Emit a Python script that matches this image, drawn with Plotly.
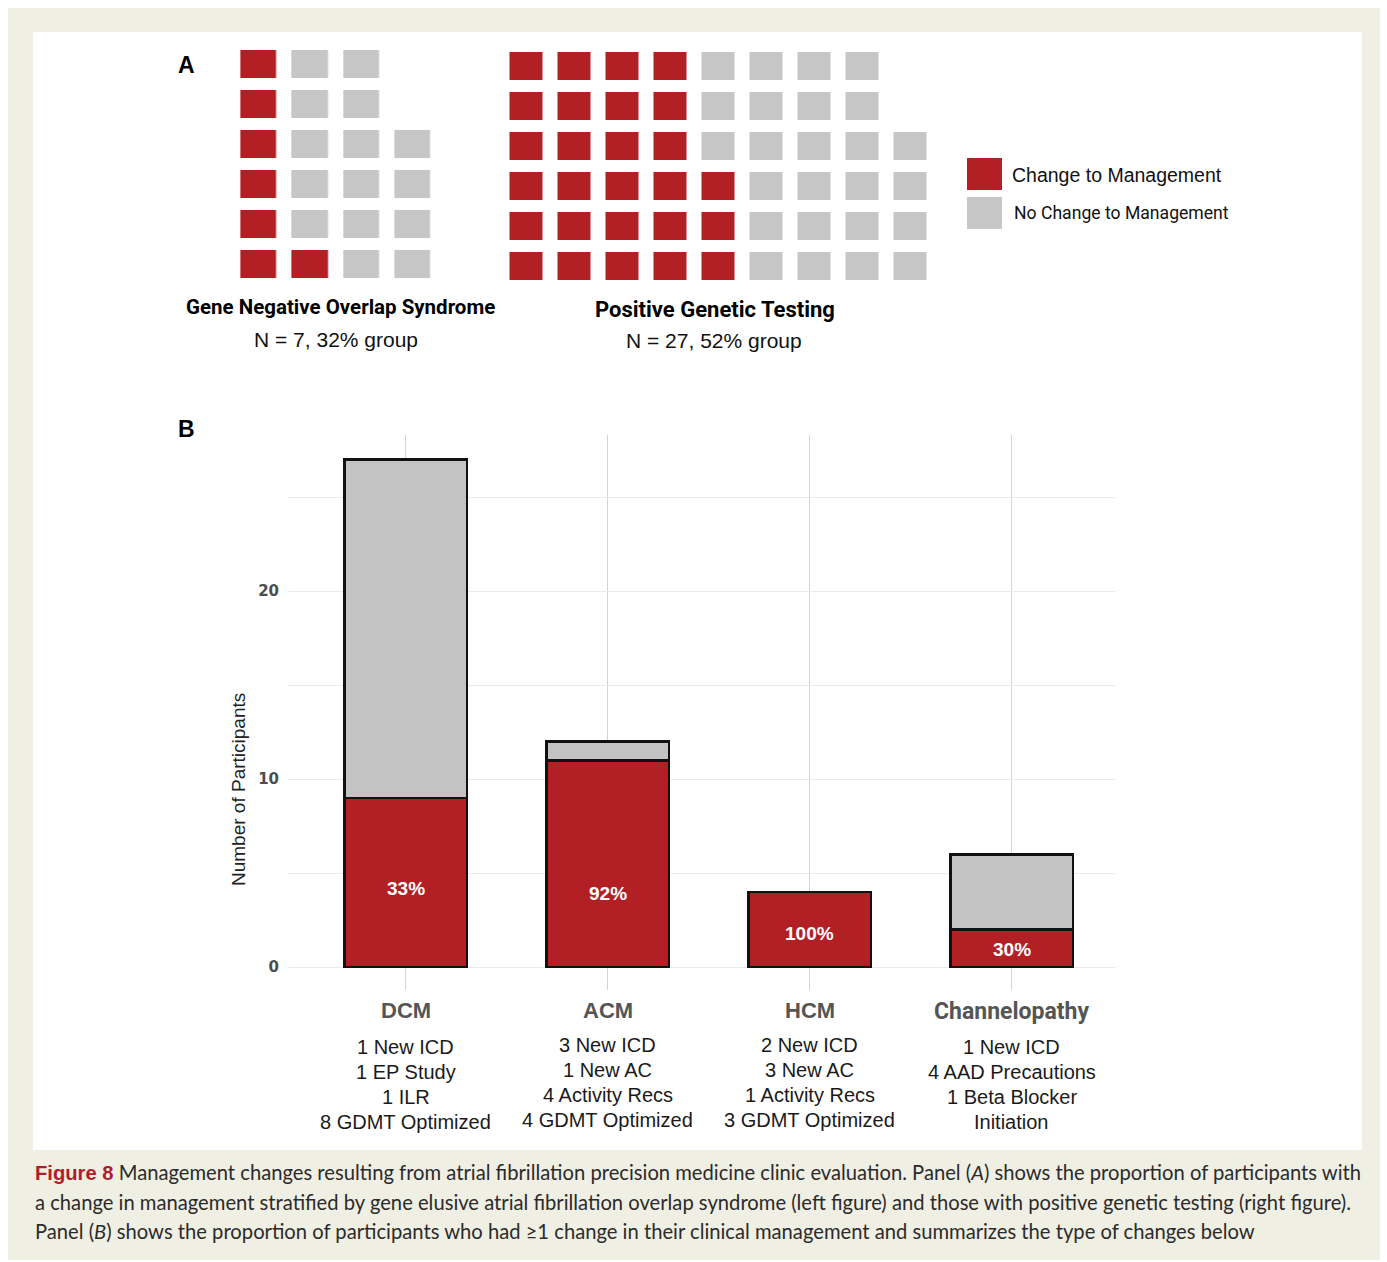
import plotly.graph_objects as go

W, H = 1387, 1262
def fx(p): return p / W
def fy(p): return 1 - p / H

# ---------------- data ----------------
waffle_rows = 6
neg_total = 22
neg_changed = 7
pos_total = 52
pos_changed = 27
neg_title = "Gene Negative Overlap Syndrome"
neg_sub = "N = 7, 32% group"
pos_title = "Positive Genetic Testing"
pos_sub = "N = 27, 52% group"
legend_labels = ["Change to Management", "No Change to Management"]

categories = ["DCM", "ACM", "HCM", "Channelopathy"]
changed = [9, 11, 4, 2]
no_change = [18, 1, 0, 4]
pct_labels = ["33%", "92%", "100%", "30%"]
change_details = [
    ["1 New ICD", "1 EP Study", "1 ILR", "8 GDMT Optimized"],
    ["3 New ICD", "1 New AC", "4 Activity Recs", "4 GDMT Optimized"],
    ["2 New ICD", "3 New AC", "1 Activity Recs", "3 GDMT Optimized"],
    ["1 New ICD", "4 AAD Precautions", "1 Beta Blocker", "Initiation"],
]
y_tick_vals = [0, 10, 20]
y_title = "Number of Participants"

caption_lines = [
    "<span style='font-family:Liberation Sans;font-weight:bold;color:#b01c2e'>Figure 8</span> Management changes resulting from atrial fibrillation precision medicine clinic evaluation. Panel (<i>A</i>) shows the proportion of participants with",
    "a change in management stratified by gene elusive atrial fibrillation overlap syndrome (left figure) and those with positive genetic testing (right figure).",
    "Panel (<i>B</i>) shows the proportion of participants who had \u22651 change in their clinical management and summarizes the type of changes below",
]

# ---------------- styles ----------------
RED = "#b21f24"
GREY = "#c3c3c3"
WGREY = "#c6c6c6"
BEIGE = "#f0efe3"
ARIAL = "Liberation Sans, Arial, sans-serif"
NARROW = "Roboto, Liberation Sans, sans-serif"
CAPTION = "Lato, Liberation Sans, sans-serif"
LABEL_Y = [4.2, 3.9, 1.8, 0.96]


def waffle(total, chg, rows):
    ncols = -(-total // rows)
    z = [[None] * ncols for _ in range(rows)]
    for i in range(total):
        c = i // rows
        r = rows - 1 - (i % rows)
        z[r][c] = 1 if i < chg else 0
    return z, ncols


fig = go.Figure()

# stacked bars (panel B)
fig.add_trace(go.Bar(x=categories, y=changed, width=0.606,
                     marker=dict(color=RED, line=dict(color="#111111", width=2.5)),
                     xaxis="x", yaxis="y", hoverinfo="skip"))
fig.add_trace(go.Bar(x=categories, y=no_change, width=0.606,
                     marker=dict(color=GREY, line=dict(color="#111111", width=2.5)),
                     xaxis="x", yaxis="y", hoverinfo="skip"))

cs = [[0, WGREY], [0.5, WGREY], [0.5, RED], [1, RED]]
zn, nc_n = waffle(neg_total, neg_changed, waffle_rows)
zp, nc_p = waffle(pos_total, pos_changed, waffle_rows)
fig.add_trace(go.Heatmap(z=zn, colorscale=cs, zmin=0, zmax=1, showscale=False,
                         xgap=15.3, ygap=12, xaxis="x2", yaxis="y2", hoverinfo="skip"))
fig.add_trace(go.Heatmap(z=zp, colorscale=cs, zmin=0, zmax=1, showscale=False,
                         xgap=15, ygap=12, xaxis="x3", yaxis="y3", hoverinfo="skip"))

hidden = dict(showgrid=False, zeroline=False, showticklabels=False, ticks="", showline=False, fixedrange=True)

fig.update_layout(
    width=W, height=H, margin=dict(l=0, r=0, t=0, b=0),
    paper_bgcolor="white", plot_bgcolor="rgba(0,0,0,0)",
    barmode="stack", showlegend=False,
    xaxis=dict(domain=[fx(288), fx(1116)], range=[-0.582, 3.517], type="category",
               showgrid=True, gridcolor="#d4d4d4", gridwidth=1.2,
               showticklabels=False, ticks="", zeroline=False, showline=False),
    yaxis=dict(domain=[fy(990), fy(435)], range=[-1.22, 28.3],
               tickvals=[0, 5, 10, 15, 20, 25],
               ticktext=[str(v) if v in y_tick_vals else "" for v in [0, 5, 10, 15, 20, 25]],
               showgrid=True, gridcolor="#ebebeb", gridwidth=1,
               zeroline=False, showline=False, ticks="", ticklabelstandoff=8,
               tickfont=dict(family="DejaVu Sans", size=15, color="#4d4d4d", weight="bold")),
    xaxis2=dict(domain=[fx(233.35), fx(438.65)], range=[-0.5, nc_n - 0.5], anchor="y2", **hidden),
    yaxis2=dict(domain=[fy(284), fy(44)], range=[waffle_rows - 0.5, -0.5], anchor="x2", **hidden),
    xaxis3=dict(domain=[fx(502.5), fx(934.5)], range=[-0.5, nc_p - 0.5], anchor="y3", **hidden),
    yaxis3=dict(domain=[fy(286), fy(46)], range=[waffle_rows - 0.5, -0.5], anchor="x3", **hidden),
)

shapes = [
    dict(type="rect", xref="paper", yref="paper", x0=fx(8), x1=fx(1380), y0=fy(1260), y1=fy(8),
         fillcolor=BEIGE, line=dict(width=0), layer="below"),
    dict(type="rect", xref="paper", yref="paper", x0=fx(33), x1=fx(1362), y0=fy(1150), y1=fy(32),
         fillcolor="white", line=dict(width=0), layer="below"),
    dict(type="rect", xref="paper", yref="paper", x0=fx(967), x1=fx(1002), y0=fy(190), y1=fy(158),
         fillcolor=RED, line=dict(width=0)),
    dict(type="rect", xref="paper", yref="paper", x0=fx(967), x1=fx(1002), y0=fy(229), y1=fy(197),
         fillcolor=WGREY, line=dict(width=0)),
]
fig.update_layout(shapes=shapes)

ann = []
def text(x, y, s, size, family=ARIAL, color="#111111", weight="normal", xanchor="center", **kw):
    ann.append(dict(xref="paper", yref="paper", x=fx(x), y=fy(y), text=s, showarrow=False,
                    xanchor=xanchor, yanchor="middle",
                    font=dict(family=family, size=size, color=color, weight=weight), **kw))

text(186, 65, "A", 23, weight="bold", color="#000")
text(186, 429, "B", 23, weight="bold", color="#000")
text(340, 307, neg_title, 20.5, family=NARROW, weight="bold", color="#000")
text(336, 339, neg_sub, 21, color="#111")
text(715, 309, pos_title, 22, family=NARROW, weight="bold", color="#000")
text(714, 340, pos_sub, 21, color="#111")
text(1010, 175, legend_labels[0], 19.5, xanchor="left", color="#111")
text(1012, 213, legend_labels[1], 17.6, family=NARROW, xanchor="left", color="#111")
text(238, 790, y_title, 19, color="#222", textangle=-90)

for i, cat in enumerate(categories):
    if cat == "Channelopathy":
        f = dict(family=NARROW, size=23, color="#555555", weight="bold")
        ly = 1011
    else:
        f = dict(family=ARIAL, size=22, color="#555555", weight="bold")
        ly = 1010
    ann.append(dict(xref="x", yref="paper", x=cat, y=fy(ly), text=cat, showarrow=False,
                    xanchor="center", yanchor="middle", font=f))
    base = 1047 if i in (0, 3) else 1045
    for j, line in enumerate(change_details[i]):
        ann.append(dict(xref="x", yref="paper", x=cat, y=fy(base + 25 * j), text=line, showarrow=False,
                        xanchor="center", yanchor="middle",
                        font=dict(family=ARIAL, size=20, color="#1a1a1a")))
    ann.append(dict(xref="x", yref="y", x=cat, y=LABEL_Y[i], text=pct_labels[i], showarrow=False,
                    xanchor="center", yanchor="middle",
                    font=dict(family=ARIAL, size=19, color="white", weight="bold")))

for k, line in enumerate(caption_lines):
    text(33, 1172 + 29.5 * k, line, 20.2, family=CAPTION, color="#2b2b2b", xanchor="left")

fig.update_layout(annotations=ann)
fig.write_html("out.html")
